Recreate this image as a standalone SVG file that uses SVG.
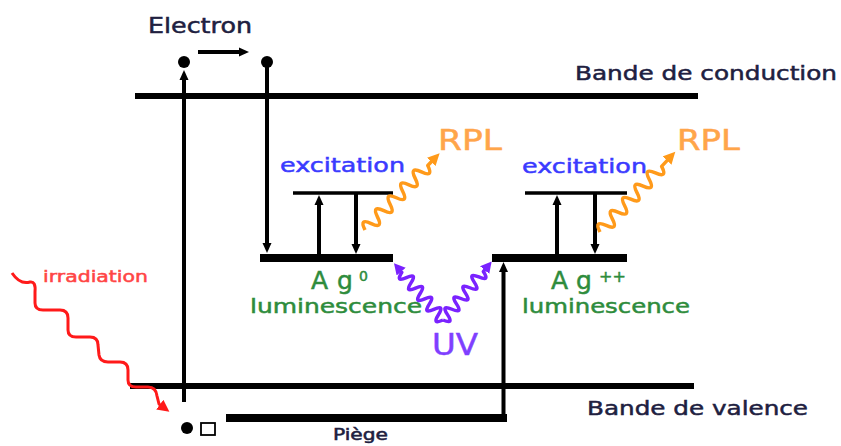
<svg xmlns="http://www.w3.org/2000/svg" width="841" height="446" viewBox="0 0 841 446">
<style>
  .band{stroke:#000;stroke-width:6;fill:none}
  .lvl{stroke:#000;stroke-width:8;fill:none}
  .exc{stroke:#000;stroke-width:3.5;fill:none}
  .ar{stroke:#000;stroke-width:4;fill:none}
  .lbl{font-family:"DejaVu Sans","Liberation Sans",sans-serif;stroke-width:0.5}
  .dark{fill:#20203f;stroke:#20203f}
  .blue{fill:#3a3aff;stroke:#3a3aff}
  .org{fill:#ffa54a;stroke:#ffa54a}
  .grn{fill:#2e8c3c;stroke:#2e8c3c}
  .wo{stroke:#ff9a1a;stroke-width:3.5;fill:none;stroke-linejoin:round}
  .wp{stroke:#7a22ff;stroke-width:3.5;fill:none;stroke-linejoin:round}
  .wr{stroke:#ff1a1a;stroke-width:3;fill:none;stroke-linejoin:round}
</style>
<defs>
  <marker id="ab" markerWidth="12" markerHeight="10" refX="4" refY="5" orient="auto" markerUnits="userSpaceOnUse"><path d="M0,0.5 L10,5 L0,9.5 z" fill="#000"/></marker>
  <marker id="ao" markerWidth="14" markerHeight="12" refX="4" refY="6" orient="auto" markerUnits="userSpaceOnUse"><path d="M0,0 L12,6 L0,12 z" fill="#ff9a1a"/></marker>
  <marker id="ap" markerWidth="14" markerHeight="12" refX="4" refY="6" orient="auto" markerUnits="userSpaceOnUse"><path d="M0,0 L11,6 L0,12 z" fill="#7a22ff"/></marker>
  <marker id="ar" markerWidth="14" markerHeight="12" refX="4" refY="6" orient="auto" markerUnits="userSpaceOnUse"><path d="M0,0 L12,6 L0,12 z" fill="#ff1a1a"/></marker>
</defs>
<rect width="841" height="446" fill="#fff"/>

<g id="conduction-band">
  <line class="band" x1="135" y1="96" x2="698" y2="96"/>
  <text class="lbl dark" x="575" y="80" font-size="20" textLength="262" lengthAdjust="spacingAndGlyphs">Bande de conduction</text>
</g>
<g id="valence-band">
  <line class="band" x1="130" y1="386" x2="694" y2="386"/>
  <text class="lbl dark" x="587" y="415" font-size="20" textLength="221" lengthAdjust="spacingAndGlyphs">Bande de valence</text>
</g>
<g id="trap">
  <line class="lvl" x1="226" y1="418" x2="507" y2="418" stroke-width="7"/>
  <text class="lbl dark" x="333" y="440" font-size="15" textLength="55" lengthAdjust="spacingAndGlyphs">Piège</text>
</g>
<g id="electron">
  <text class="lbl dark" x="148" y="33" font-size="21" textLength="104" lengthAdjust="spacingAndGlyphs">Electron</text>
  <circle cx="184" cy="62" r="6" fill="#000"/>
  <circle cx="267" cy="62" r="6" fill="#000"/>
</g>
<g id="hole">
  <circle cx="187" cy="428" r="6" fill="#000"/>
  <rect x="201" y="423" width="14" height="12" fill="#fff" stroke="#000" stroke-width="1.8"/>
</g>
<g id="ag0">
  <line class="lvl" x1="260" y1="258" x2="393" y2="258"/>
  <line class="exc" x1="293" y1="193" x2="393" y2="193"/>
  <text class="lbl grn" font-size="25"><tspan x="311" y="289">A</tspan><tspan x="337" y="289">g</tspan><tspan x="359" y="281" font-size="14">0</tspan></text>
  <text class="lbl grn" x="250" y="313" font-size="20" textLength="172" lengthAdjust="spacingAndGlyphs">luminescence</text>
  <text class="lbl blue" x="280" y="172" font-size="20" textLength="125" lengthAdjust="spacingAndGlyphs">excitation</text>
  <text class="lbl org" x="438" y="150" font-size="28" textLength="64" lengthAdjust="spacingAndGlyphs">RPL</text>
</g>
<g id="agpp">
  <line class="lvl" x1="492" y1="258" x2="627" y2="258"/>
  <line class="exc" x1="525" y1="193" x2="627" y2="193"/>
  <text class="lbl grn" font-size="25"><tspan x="551" y="289">A</tspan><tspan x="576" y="289">g</tspan><tspan x="599" y="282" font-size="16">++</tspan></text>
  <text class="lbl grn" x="522" y="313" font-size="20" textLength="168" lengthAdjust="spacingAndGlyphs">luminescence</text>
  <text class="lbl blue" x="522" y="173" font-size="20" textLength="125" lengthAdjust="spacingAndGlyphs">excitation</text>
  <text class="lbl org" x="677" y="150" font-size="28" textLength="63" lengthAdjust="spacingAndGlyphs">RPL</text>
</g>
<g id="uv-label">
  <text class="lbl" x="432" y="355" font-size="30" fill="#7f3fff" stroke="#7f3fff" textLength="46" lengthAdjust="spacingAndGlyphs">UV</text>
</g>
<g id="irradiation-label">
  <text class="lbl" x="43" y="282" font-size="16" fill="#ff4545" stroke="#ff4545" stroke-width="0.3" textLength="105" lengthAdjust="spacingAndGlyphs">irradiation</text>
</g>

<g id="connectors">
  <line class="ar" x1="184" y1="402" x2="184" y2="76" marker-end="url(#ab)"/>
  <line class="ar" x1="267" y1="62" x2="267" y2="247" marker-end="url(#ab)"/>
  <line class="ar" x1="198" y1="52" x2="243" y2="52" marker-end="url(#ab)"/>
  <line class="ar" x1="503.5" y1="421" x2="503.5" y2="268" marker-end="url(#ab)"/>
  <line class="ar" x1="319" y1="254" x2="319" y2="201" marker-end="url(#ab)"/>
  <line class="ar" x1="356" y1="193" x2="356" y2="248" marker-end="url(#ab)"/>
  <line class="ar" x1="557" y1="254" x2="557" y2="201" marker-end="url(#ab)"/>
  <line class="ar" x1="595" y1="193" x2="595" y2="248" marker-end="url(#ab)"/>

  <path class="wo" transform="translate(365,230) rotate(-45.8)" d="M0,0 q4.5,-13 9,0 t9,0 t9,0 t9,0 t9,0 t9,0 t9,0 t9,0 t9,0 t9,0 L99,0" marker-end="url(#ao)"/>
  <path class="wo" transform="translate(600,232) rotate(-46.8)" d="M0,0 q4.5,-13 9,0 t9,0 t9,0 t9,0 t9,0 t9,0 t9,0 t9,0 t9,0 t9,0 L102,0" marker-end="url(#ao)"/>
  <path class="wp" transform="translate(443,320) rotate(-130.8)" d="M0,0 q3.5,-12 7,0 t7,0 t7,0 t7,0 t7,0 t7,0 t7,0 t7,0 t7,0 L68,0" marker-end="url(#ap)"/>
  <path class="wp" transform="translate(443,320) rotate(-50.2)" d="M0,0 q3.5,12 7,0 t7,0 t7,0 t7,0 t7,0 t7,0 t7,0 t7,0 t7,0 L69,0" marker-end="url(#ap)"/>
  <path class="wr" d="M12,273 Q20,285 30,282 Q36,281 35,292 L35,303 Q35,310 43,310 L60,310 Q68,310 68,318 L68,330 Q68,337 76,337 L90,337 Q98,337 98,345 L99,355 Q100,362 108,362 L120,362 Q128,362 128,370 L128,380 Q128,387 136,387 L148,387 Q156,387 157,396 L159,404 L163,407" marker-end="url(#ar)"/>
</g>
</svg>
